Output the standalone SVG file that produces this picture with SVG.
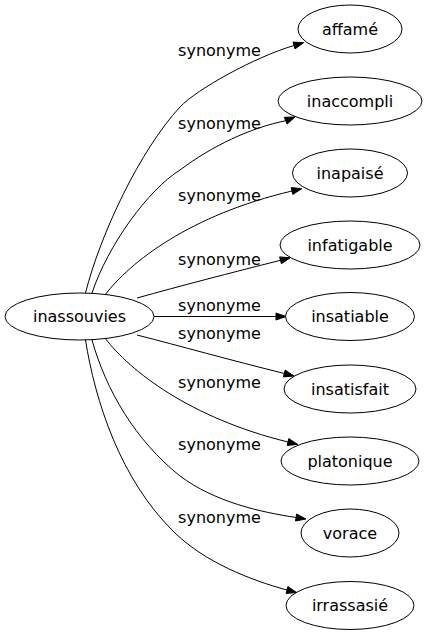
<svg xmlns="http://www.w3.org/2000/svg" width="427" height="635" viewBox="0 0 427 635">
<style>
.node ellipse{fill:none;stroke:#000;stroke-width:1}
text{font-family:"DejaVu Sans",sans-serif;font-size:16px;fill:#000;text-anchor:middle}
.edges path{fill:none;stroke:#000;stroke-width:1}
.edges polygon{fill:#000;stroke:#000;stroke-width:1}
.lbl{fill:#222}
</style>
<rect width="427" height="635" fill="#fff"/>
<g class="edges">
<path d="M85.5,293 C100,235 140,150 180,107 C197,89 255,57 294,45.5"/>
<polygon points="295,48.9 303.6,42.7 293,42.1"/>
<path d="M92,293 C108,245 148,190 180,170 C212,146 250,128 285.7,120.7"/>
<polygon points="287.1,124.1 295,117 284.3,117.3"/>
<path d="M105,295 C130,262 190,215 292,191"/>
<polygon points="292.8,194.4 301.7,188.7 291.2,187.6"/>
<path d="M137,298 C180,286 230,273 280.5,260.3"/>
<polygon points="281.4,263.7 290.2,257.8 279.6,256.9"/>
<path d="M154,316.5 L276,316.5"/>
<polygon points="276,320 286,316.5 276,313"/>
<path d="M137,335 C180,346 230,360 284.3,373.5"/>
<polygon points="283.4,376.9 294,376 285.2,370.1"/>
<path d="M105,338 C130,371 190,418 288,442"/>
<polygon points="287.2,445.4 297.7,444.4 288.8,438.6"/>
<path d="M92,340 C106,390 135,440 180,476 C215,502 260,512 296,517.5"/>
<polygon points="295.5,521 305.9,519 296.6,514"/>
<path d="M85.5,340 C95,400 120,480 175,533 C205,562 250,580 287,590"/>
<polygon points="286.1,593.4 296.7,592.6 287.9,586.6"/>
</g>
<g class="lbl">
<text x="219.5" y="55.5">synonyme</text>
<text x="219.5" y="129">synonyme</text>
<text x="219.5" y="201">synonyme</text>
<text x="219.5" y="265">synonyme</text>
<text x="219.5" y="311">synonyme</text>
<text x="219.5" y="338.5">synonyme</text>
<text x="219.5" y="387.5">synonyme</text>
<text x="219.5" y="449.5">synonyme</text>
<text x="219.5" y="522.5">synonyme</text>
</g>
<g id="n0" class="node"><ellipse cx="79.5" cy="316.5" rx="74.5" ry="23.5"/><text x="79.5" y="322">inassouvies</text></g>
<g id="n1" class="node"><ellipse cx="350" cy="29" rx="52" ry="24"/><text x="350" y="34.5">affamé</text></g>
<g id="n2" class="node"><ellipse cx="350" cy="101" rx="72" ry="24"/><text x="350" y="106.5">inaccompli</text></g>
<g id="n3" class="node"><ellipse cx="350" cy="173" rx="57.5" ry="24"/><text x="350" y="178.5">inapaisé</text></g>
<g id="n4" class="node"><ellipse cx="350" cy="245" rx="70" ry="24"/><text x="350" y="250.5">infatigable</text></g>
<g id="n5" class="node"><ellipse cx="350" cy="316.5" rx="64.5" ry="24"/><text x="350" y="322">insatiable</text></g>
<g id="n6" class="node"><ellipse cx="350" cy="389" rx="66" ry="24"/><text x="350" y="394.5">insatisfait</text></g>
<g id="n7" class="node"><ellipse cx="350" cy="461" rx="69" ry="24"/><text x="350" y="466.5">platonique</text></g>
<g id="n8" class="node"><ellipse cx="350" cy="533" rx="49" ry="24"/><text x="350" y="538.5">vorace</text></g>
<g id="n9" class="node"><ellipse cx="350" cy="605.5" rx="64" ry="24"/><text x="350" y="611">irrassasié</text></g>
</svg>
